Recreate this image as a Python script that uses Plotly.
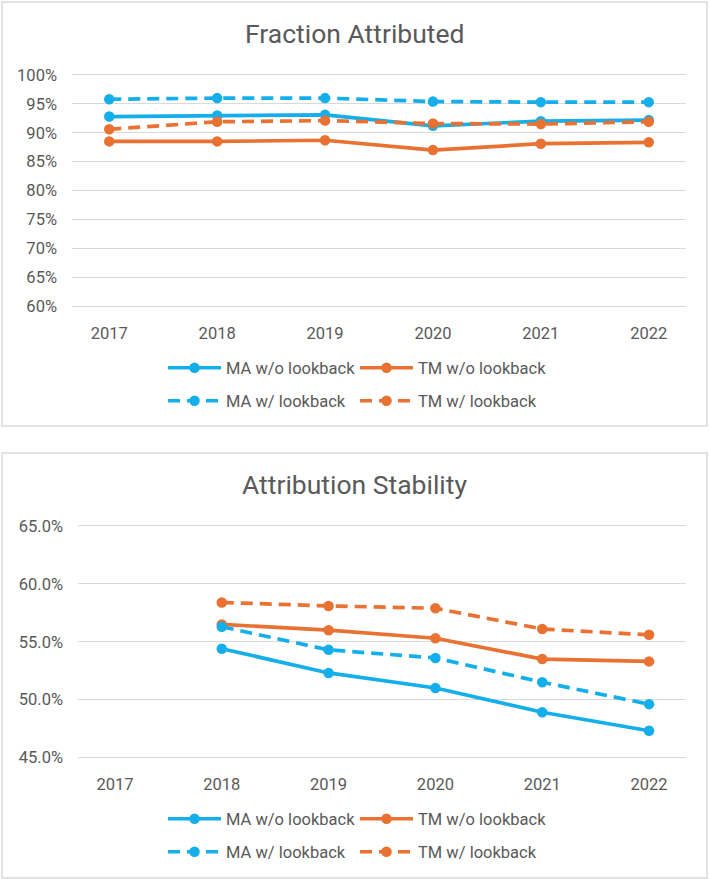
import plotly.graph_objects as go

years = ["2017", "2018", "2019", "2020", "2021", "2022"]

# Fraction Attributed (%)
fa_ma_wo = [92.8, 93.0, 93.1, 91.2, 92.0, 92.2]
fa_ma_w = [95.8, 96.0, 96.0, 95.4, 95.3, 95.3]
fa_tm_wo = [88.5, 88.5, 88.7, 87.0, 88.1, 88.35]
fa_tm_w = [90.6, 91.9, 92.1, 91.6, 91.5, 91.9]

# Attribution Stability (%)
as_ma_wo = [None, 54.4, 52.3, 51.0, 48.9, 47.3]
as_ma_w = [None, 56.3, 54.3, 53.6, 51.5, 49.6]
as_tm_wo = [None, 56.5, 56.0, 55.3, 53.5, 53.3]
as_tm_w = [None, 58.4, 58.1, 57.9, 56.1, 55.6]

names = ["MA w/o lookback", "TM w/o lookback", "MA w/ lookback", "TM w/ lookback"]

BLUE = "#14AFEB"
ORANGE = "#E97132"
GRID = "#D9D9D9"
TXT = "#595959"
FONT = "Roboto"
W, H = 709, 879

def py(y):
    return 1 - y / H

def px(x):
    return x / W

fig = go.Figure()

series_top = [fa_ma_wo, fa_tm_wo, fa_ma_w, fa_tm_w]
series_bot = [as_ma_wo, as_tm_wo, as_ma_w, as_tm_w]
colors = [BLUE, ORANGE, BLUE, ORANGE]
dashes = ["solid", "solid", "12px,7px", "12px,7px"]

for i, s in enumerate(series_top):
    fig.add_trace(go.Scatter(
        x=years, y=s, name=names[i], mode="lines+markers",
        line=dict(color=colors[i], width=3.7, dash=dashes[i]),
        marker=dict(color=colors[i], size=10.5),
        xaxis="x", yaxis="y", cliponaxis=False,
        legend="legend" if i == 0 else f"legend{i+1}",
    ))
for i, s in enumerate(series_bot):
    fig.add_trace(go.Scatter(
        x=years, y=s, name=names[i], mode="lines+markers",
        line=dict(color=colors[i], width=3.7, dash=dashes[i]),
        marker=dict(color=colors[i], size=10.5),
        xaxis="x2", yaxis="y2", cliponaxis=False,
        legend=f"legend{i+5}",
    ))

# legend positions: (line start x, row y)
leg_pos = [(163, 368), (355, 368), (163, 401), (355, 401),
           (163, 819), (355, 819), (163, 852), (355, 852)]
legends = {}
for i, (lx, ly) in enumerate(leg_pos):
    key = "legend" if i == 0 else f"legend{i+1}"
    legends[key] = dict(
        x=px(lx), y=py(ly), xanchor="left", yanchor="middle",
        orientation="h", itemwidth=53,
        font=dict(family=FONT, size=16.5, color=TXT),
        bgcolor="rgba(0,0,0,0)", borderwidth=0,
    )

axis_common = dict(
    tickfont=dict(family=FONT, size=16.5, color=TXT),
    zeroline=False, fixedrange=True, automargin=False,
)

fig.update_layout(
    width=W, height=H,
    margin=dict(l=0, r=0, t=0, b=0, autoexpand=False),
    paper_bgcolor="white", plot_bgcolor="white",
    showlegend=True,
    xaxis=dict(domain=[px(72), px(686)], anchor="y", type="category",
               categoryorder="array", categoryarray=years,
               showgrid=False, showline=True, mirror=True, linecolor=GRID, linewidth=1,
               ticks="", ticklabelstandoff=12, **axis_common),
    yaxis=dict(domain=[py(306), py(75)], anchor="x", range=[60, 100], dtick=5,
               tick0=0, ticksuffix="%", tickformat="d", showgrid=True, gridcolor=GRID,
               gridwidth=1, showline=False, ticks="", ticklabelstandoff=14,
               **axis_common),
    xaxis2=dict(domain=[px(78), px(686)], anchor="y2", type="category",
                categoryorder="array", categoryarray=years,
                showgrid=False, showline=True, mirror=True, linecolor=GRID, linewidth=1,
                ticks="", ticklabelstandoff=12, **axis_common),
    yaxis2=dict(domain=[py(757.3), py(526.2)], anchor="x2", range=[45, 65], dtick=5,
                tick0=0, ticksuffix="%", tickformat=".1f", showgrid=True, gridcolor=GRID,
                gridwidth=1, showline=False, ticks="", ticklabelstandoff=14,
                **axis_common),
    **legends,
)

# chart borders
fig.add_shape(type="rect", xref="paper", yref="paper",
              x0=px(2), x1=px(707), y0=py(426), y1=py(2),
              line=dict(color=GRID, width=1.5), layer="below")
fig.add_shape(type="rect", xref="paper", yref="paper",
              x0=px(2), x1=px(707), y0=py(878), y1=py(453),
              line=dict(color=GRID, width=1.5), layer="below")

fig.add_annotation(text="Fraction Attributed", x=px(354), y=py(33),
                   xref="paper", yref="paper", xanchor="center", yanchor="middle",
                   showarrow=False, font=dict(family=FONT, size=26.5, color=TXT))
fig.add_annotation(text="Attribution Stability", x=px(354), y=py(485),
                   xref="paper", yref="paper", xanchor="center", yanchor="middle",
                   showarrow=False, font=dict(family=FONT, size=26.5, color=TXT))

fig.write_html("out.html")
